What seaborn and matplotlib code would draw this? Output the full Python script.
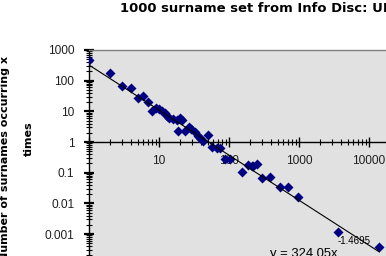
import numpy as np
import matplotlib
matplotlib.use("Agg")
import matplotlib.pyplot as plt
import matplotlib.ticker as mticker
import seaborn as sns
import pandas as pd

# ---- data ----
times_x = [1, 2, 3, 4, 5, 6, 7, 8, 9, 10, 11, 12, 13, 14, 16, 18, 20, 21.5,
           18.5, 23.5, 27, 29, 32.7, 36.4, 38.5, 43, 49.6, 56.6, 66.7, 74.4,
           87.7, 103, 152, 189, 211, 222, 249, 293, 385, 535, 703, 958,
           3640, 14000]
num_surnames = [470, 182, 68.5, 59, 26.6, 31.6, 20.6, 10.5, 12.6, 11.6, 10.6,
                8.6, 7.0, 5.9, 5.5, 5.2, 5.9, 5.2, 2.34, 2.34, 3.15, 2.6, 2.17,
                1.57, 1.32, 1.1, 1.69, 0.70, 0.65, 0.62, 0.279, 0.279, 0.103,
                0.178, 0.171, 0.165, 0.192, 0.0655, 0.074, 0.0333, 0.0333,
                0.0157, 0.00119, 0.000386]
trend_coef = 324.05
trend_exp = -1.4695
title_text = "1000 surname set from Info Disc: UK"
ylabel_line1 = "Number of surnames occurring x"
ylabel_line2 = "times"
y_ticks = [0.001, 0.01, 0.1, 1, 10, 100, 1000]
y_tick_labels = ["0.001", "0.01", "0.1", "1", "10", "100", "1000"]
x_ticks = [10, 100, 1000, 10000]
x_tick_labels = ["10", "100", "1000", "10000"]

df = pd.DataFrame({"x": times_x, "y": num_surnames})
xt = np.geomspace(min(times_x), max(times_x), 200)
trend = pd.DataFrame({"x": xt, "y": trend_coef * xt ** trend_exp})

W, H = 386, 256
fig = plt.figure(figsize=(W / 100, H / 100), dpi=100)
fig.patch.set_facecolor("white")

# axes geometry in pixels (area continues beyond the picture edges)
left_px, top_px = 89, 50
px_per_dec_x, px_per_dec_y = 70.0, 30.67
x_dec, y_lo, y_hi = 5, -4, 3
right_px = left_px + x_dec * px_per_dec_x
bottom_px = top_px + (y_hi - y_lo) * px_per_dec_y
ax = fig.add_axes([left_px / W, 1 - bottom_px / H,
                   (right_px - left_px) / W, (bottom_px - top_px) / H])
ax.set_facecolor("#E1E1E1")

sns.scatterplot(data=df, x="x", y="y", marker="D", s=26, color="#000080",
                edgecolor="#000080", linewidth=0, ax=ax, zorder=3)
sns.lineplot(data=trend, x="x", y="y", color="black", linewidth=0.8, ax=ax,
             zorder=4)

ax.set_xscale("log")
ax.set_yscale("log")
ax.set_xlim(1, 10 ** x_dec)
ax.set_ylim(10 ** y_lo, 10 ** y_hi)
ax.set_xlabel("")
ax.set_ylabel("")

for s in ["right", "top"]:
    ax.spines[s].set_color("#808080")
    ax.spines[s].set_linewidth(1)
ax.spines["left"].set_color("black")
ax.spines["left"].set_linewidth(1)
ax.spines["bottom"].set_position(("data", 1))
ax.spines["bottom"].set_color("black")
ax.spines["bottom"].set_linewidth(1)

ax.yaxis.set_major_locator(mticker.FixedLocator(y_ticks))
ax.yaxis.set_major_formatter(mticker.FixedFormatter(y_tick_labels))
ax.yaxis.set_minor_locator(mticker.LogLocator(base=10, subs=np.arange(2, 10), numticks=20))
ax.yaxis.set_minor_formatter(mticker.NullFormatter())
ax.xaxis.set_major_locator(mticker.FixedLocator([1] + x_ticks + [100000]))
ax.xaxis.set_major_formatter(mticker.FixedFormatter([""] + x_tick_labels + [""]))
ax.xaxis.set_minor_locator(mticker.LogLocator(base=10, subs=np.arange(2, 10), numticks=20))
ax.xaxis.set_minor_formatter(mticker.NullFormatter())

ax.tick_params(axis="y", which="major", direction="inout", length=7, width=1.6,
               pad=7, colors="black", labelsize=8.6)
ax.tick_params(axis="y", which="minor", direction="inout", length=4, width=0.8)
ax.tick_params(axis="x", which="major", direction="inout", length=7, width=1,
               pad=6, labelsize=8.6)
ax.tick_params(axis="x", which="minor", direction="inout", length=5, width=0.8)
for lab in ax.get_xticklabels() + ax.get_yticklabels():
    lab.set_fontfamily("Liberation Sans")
    lab.set_color("#202020")

# texts
fig.text(120 / W, 1 - 8.5 / H, title_text, ha="left", va="center",
         fontsize=9.45, fontweight="bold", family="DejaVu Sans")
fig.text(5.5 / W, 1 - 158.5 / H, ylabel_line1, rotation=90, ha="center",
         va="center", fontsize=8, fontweight="bold", family="DejaVu Sans")
fig.text(28.5 / W, 1 - 138.5 / H, ylabel_line2, rotation=90, ha="center",
         va="center", fontsize=8, fontweight="bold", family="DejaVu Sans")
fig.text(270 / W, 1 - 256.5 / H, f"y = {trend_coef:.2f}x", ha="left",
         va="baseline", fontsize=9.4, family="Liberation Sans")
fig.text(338 / W, 1 - 244 / H, f"{trend_exp:.4f}", ha="left",
         va="baseline", fontsize=7, family="Liberation Sans", zorder=2)

fig.savefig("out.png", dpi=100)
